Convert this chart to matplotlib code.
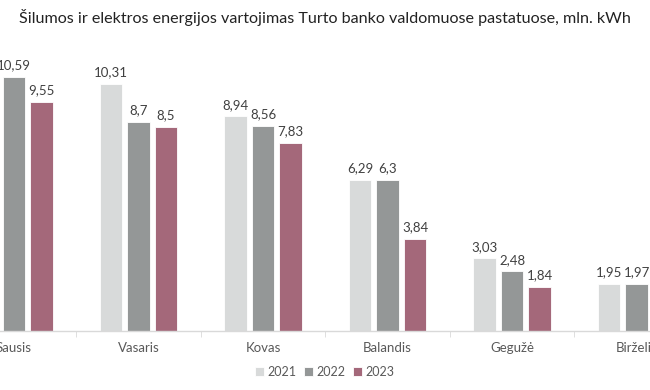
import numpy as np
import matplotlib.pyplot as plt

months = ['Sausis', 'Vasaris', 'Kovas', 'Balandis', 'Gegužė', 'Birželis']
years = ['2021', '2022', '2023']
# values cut off at the picture edges are left empty
v2021 = [np.nan, 10.31, 8.94, 6.29, 3.03, 1.95]
v2022 = [10.59, 8.7, 8.56, 6.3, 2.48, 1.97]
v2023 = [9.55, 8.5, 7.83, 3.84, 1.84, np.nan]
colors = ['#d8dada', '#949797', '#a4687a']

plt.rcParams['font.family'] = ['Lato', 'DejaVu Sans']

fig = plt.figure(figsize=(6.5, 3.9), dpi=100)
ax = fig.add_axes([0, 59 / 390, 1, 281 / 390])

x = np.arange(len(months))
w = 0.182
step = 0.221
for k, (vals, col, yr) in enumerate(zip([v2021, v2022, v2023], colors, years)):
    pos = x + (k - 1) * step
    ax.bar(pos, vals, w, color=col, edgecolor='white', linewidth=0.6, label=yr, zorder=2)
    for p, v in zip(pos, vals):
        if np.isnan(v):
            continue
        ax.annotate(f'{v:g}'.replace('.', ','), (p, v), xytext=(0, 4), textcoords='offset points',
                    ha='center', va='bottom', fontsize=9.5, color='#404040')

ax.set_xlim(-14 / 124.5, (650 - 14) / 124.5)
ax.set_ylim(0, 281 / 24)

for s in ['top', 'right', 'left']:
    ax.spines[s].set_visible(False)
ax.spines['bottom'].set_color('#d9d9d9')
ax.spines['bottom'].set_linewidth(1)
ax.set_yticks([])
ax.set_xticks(x)
ax.set_xticklabels(months, fontsize=9.5, color='#595959')
ax.tick_params(axis='x', length=0, pad=8)
ax.set_xticks(x[:-1] + 0.5, minor=True)
ax.tick_params(axis='x', which='minor', length=4, color='#d9d9d9')

fig.text(0.5, 0.955, 'Šilumos ir elektros energijos vartojimas Turto banko valdomuose pastatuose, mln. kWh',
         ha='center', va='center', fontsize=11.6, color='#222222')

fig.legend(loc='center', bbox_to_anchor=(0.5, 18 / 390), ncol=3, frameon=False,
           fontsize=9, handlelength=0.7, handleheight=0.7, handletextpad=0.3, columnspacing=0.6,
           labelcolor='#595959')

fig.savefig('out.png', dpi=100)
